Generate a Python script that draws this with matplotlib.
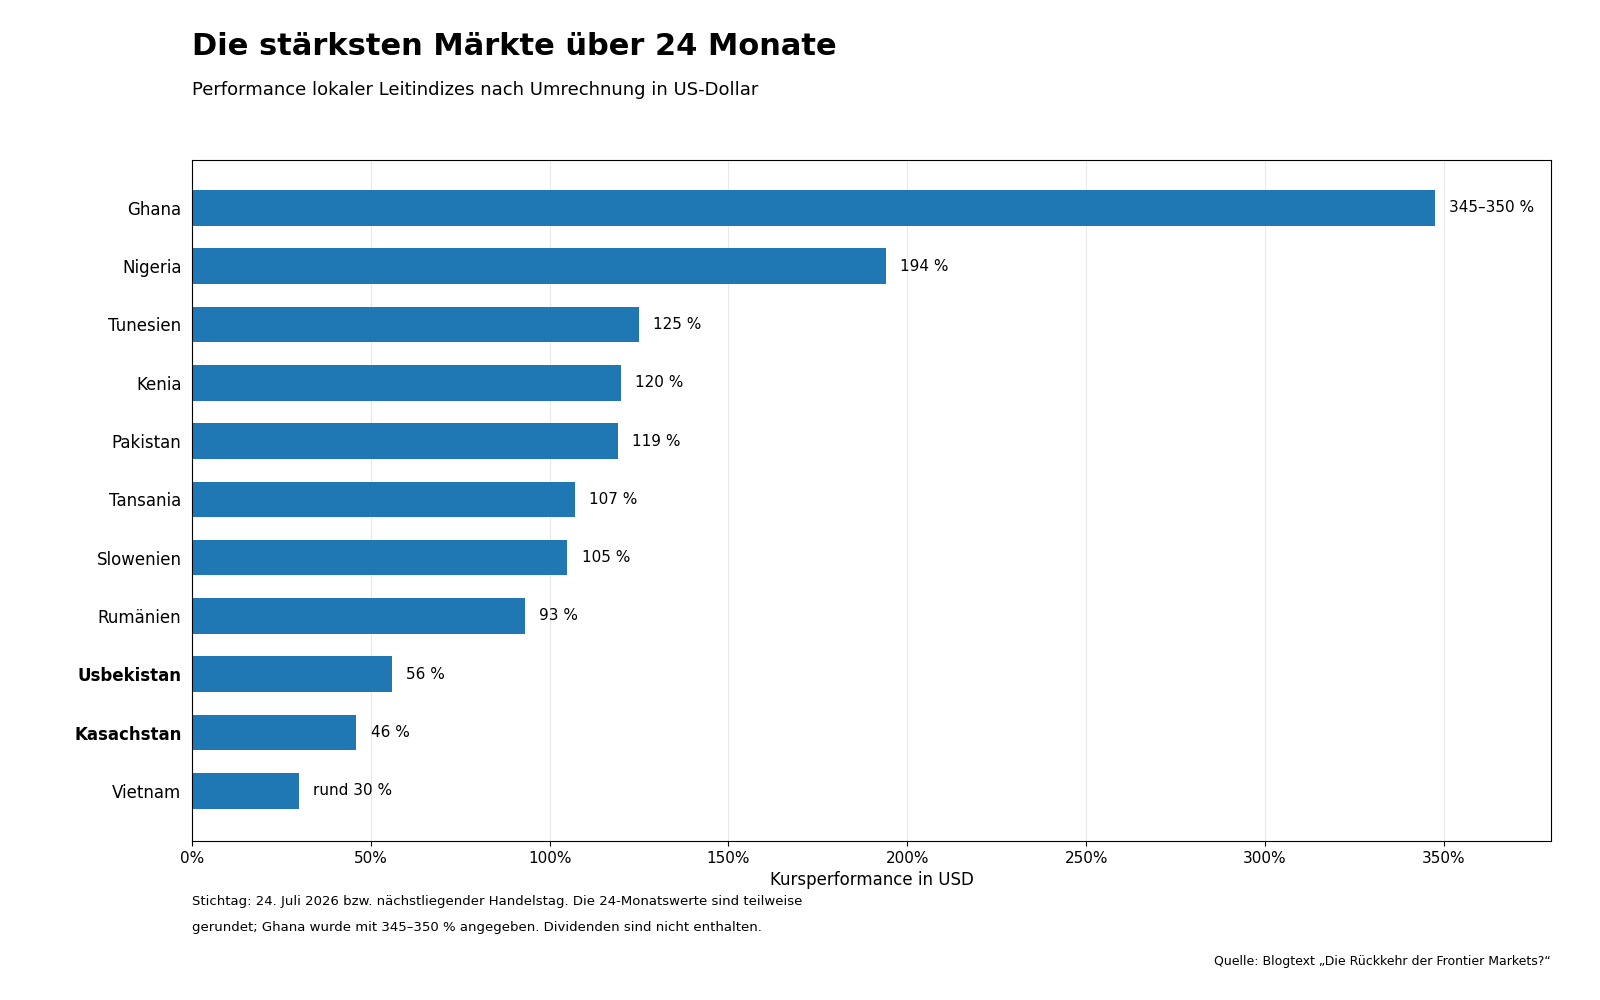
import matplotlib
matplotlib.use("Agg")
import matplotlib.pyplot as plt
from matplotlib.ticker import FuncFormatter

countries = ["Ghana", "Nigeria", "Tunesien", "Kenia", "Pakistan", "Tansania",
             "Slowenien", "Rumänien", "Usbekistan", "Kasachstan", "Vietnam"]
values = [347.5, 194, 125, 120, 119, 107, 105, 93, 56, 46, 30]
labels = ["345–350 %", "194 %", "125 %", "120 %", "119 %", "107 %", "105 %",
          "93 %", "56 %", "46 %", "rund 30 %"]
bold_countries = ["Usbekistan", "Kasachstan"]
xticks = [0, 50, 100, 150, 200, 250, 300, 350]

fig = plt.figure(figsize=(16, 10), dpi=100)
ax = fig.add_axes([0.1199, 0.159, 0.8496, 0.681])

ypos = list(range(len(countries)))[::-1]
ax.barh(ypos, values, height=0.61, color="#1f77b4", zorder=2)
for y, v, lab in zip(ypos, values, labels):
    ax.text(v + 4, y, lab, va="center", ha="left", fontsize=11)

ax.set_yticks(ypos)
ax.set_yticklabels(countries, fontsize=12)
for t in ax.get_yticklabels():
    if t.get_text() in bold_countries:
        t.set_fontweight("bold")
ax.set_xticks(xticks)
ax.xaxis.set_major_formatter(FuncFormatter(lambda x, p: f"{x:.0f}%"))
ax.tick_params(axis="x", labelsize=11)
ax.tick_params(axis="y", length=0, pad=7.5)
ax.set_xlim(0, 380)
ax.set_ylim(-0.86, len(countries) - 0.18)
ax.grid(axis="x", color="#e8e8e8", linewidth=0.8, zorder=0)
ax.set_axisbelow(True)
ax.set_xlabel("Kursperformance in USD", fontsize=12)

fig.text(0.1199, 0.968, "Die stärksten Märkte über 24 Monate", fontsize=22,
         fontweight="bold", va="top", ha="left")
fig.text(0.1199, 0.919, "Performance lokaler Leitindizes nach Umrechnung in US-Dollar",
         fontsize=13, va="top", ha="left")
fig.text(0.1199, 0.099, "Stichtag: 24. Juli 2026 bzw. nächstliegender Handelstag. Die 24-Monatswerte sind teilweise",
         fontsize=9.5, va="center", ha="left")
fig.text(0.1199, 0.072, "gerundet; Ghana wurde mit 345–350 % angegeben. Dividenden sind nicht enthalten.",
         fontsize=9.5, va="center", ha="left")
fig.text(0.9695, 0.038, "Quelle: Blogtext „Die Rückkehr der Frontier Markets?“",
         fontsize=9.0, va="center", ha="right")

fig.savefig("out.png", dpi=100)
